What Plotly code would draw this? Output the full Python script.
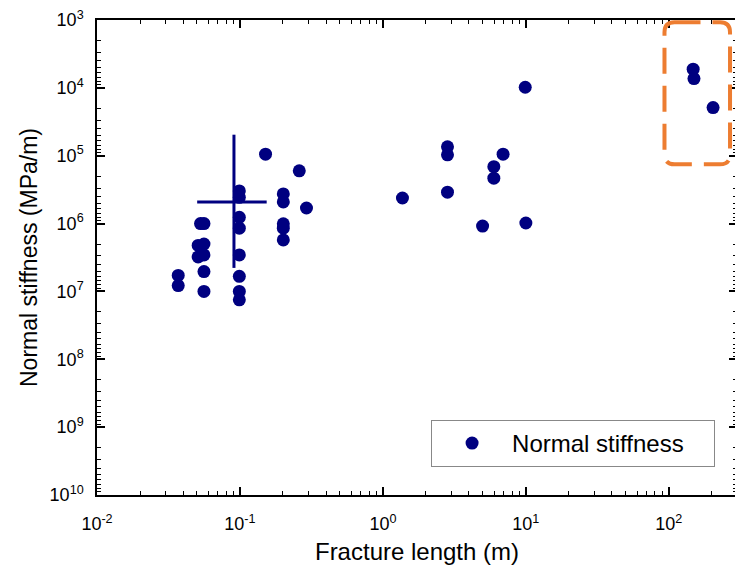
import plotly.graph_objects as go

# ---- data ----
length_m = [0.037, 0.037,
            0.053, 0.056, 0.056, 0.051, 0.056, 0.051, 0.056, 0.056,
            0.099, 0.099, 0.099, 0.099, 0.099, 0.099, 0.099, 0.099,
            0.151,
            0.201, 0.201, 0.201, 0.201, 0.201,
            0.26, 0.292,
            1.37, 2.83, 2.83, 2.83, 4.98, 5.97, 5.97, 6.93, 9.9, 10.0,
            148, 150, 204]
stiffness = [5.8e6, 8.2e6,
             1.0e6, 1.0e6, 2.0e6, 2.1e6, 2.9e6, 3.1e6, 5.1e6, 1.0e7,
             3.3e5, 4.1e5, 8.1e5, 1.17e6, 2.9e6, 6.0e6, 1.0e7, 1.33e7,
             9.5e4,
             3.66e5, 4.8e5, 1.01e6, 1.17e6, 1.74e6,
             1.67e5, 5.9e5,
             4.2e5, 7.4e4, 9.7e4, 3.45e5, 1.09e6, 1.45e5, 2.14e5, 9.5e4, 9.8e3, 9.8e5,
             5.3e3, 7.3e3, 1.95e4]

# mean value with error range (cross)
mean_length = [0.0908]
mean_stiffness = [4.8e5]
length_err_plus = [0.063]
length_err_minus = [0.0406]
stiff_err_plus = [4.02e6]
stiff_err_minus = [4.31e5]

x_tickvals = [0.01, 0.1, 1, 10, 100]
x_ticktext = ["10<sup>-2</sup>", "10<sup>-1</sup>", "10<sup>0</sup>", "10<sup>1</sup>", "10<sup>2</sup>"]
y_tickvals = [1e3, 1e4, 1e5, 1e6, 1e7, 1e8, 1e9, 1e10]
y_ticktext = ["10<sup>%d</sup>" % k for k in range(3, 11)]

x_minor = [m * 10.0 ** k for k in range(-2, 3) for m in range(2, 10)]
y_minor = [m * 10.0 ** k for k in range(3, 10) for m in range(2, 10)]

NAVY = "#000080"
ORANGE = "#ED7D31"
FONT = "Arial, 'Liberation Sans', sans-serif"

fig = go.Figure()

fig.add_trace(go.Scatter(
    x=mean_length, y=mean_stiffness, mode="markers",
    marker=dict(size=1, color=NAVY, opacity=0),
    error_x=dict(type="data", symmetric=False, array=length_err_plus,
                 arrayminus=length_err_minus, color=NAVY, thickness=3, width=0),
    error_y=dict(type="data", symmetric=False, array=stiff_err_plus,
                 arrayminus=stiff_err_minus, color=NAVY, thickness=3, width=0),
    showlegend=False, hoverinfo="skip"))

fig.add_trace(go.Scatter(
    x=length_m, y=stiffness, mode="markers",
    name="Normal stiffness",
    marker=dict(size=13, color=NAVY, line=dict(width=0))))

# rounded dashed highlight box (paper coordinates)
W, H = 640.0, 475.0
L, R, T, B = 0.8867, 0.9891, 0.9952, 0.6962
rx, ry = 10 / W, 10 / H
path = (f"M {L + rx} {T} L {R - rx} {T} Q {R} {T} {R} {T - ry} "
        f"L {R} {B + ry} Q {R} {B} {R - rx} {B} "
        f"L {L + rx} {B} Q {L} {B} {L} {B + ry} "
        f"L {L} {T - ry} Q {L} {T} {L + rx} {T} Z")
fig.add_shape(type="path", path=path, xref="paper", yref="paper",
              line=dict(color=ORANGE, width=4, dash="26px,12px"))

axis_common = dict(
    showgrid=False, zeroline=False, showline=True, linecolor="black", linewidth=1.5,
    ticks="inside", ticklen=8, tickwidth=1.5, tickcolor="black", mirror="allticks",
    tickfont=dict(family=FONT, size=18, color="black"),
    ticklabeloverflow="allow",
)

fig.update_xaxes(type="log", range=[-2, 2.477], tickmode="array",
                 tickvals=x_tickvals, ticktext=x_ticktext,
                 minor=dict(tickmode="array", tickvals=x_minor, ticks="inside",
                            ticklen=4, tickwidth=1.2, tickcolor="black", showgrid=False),
                 title=dict(text="Fracture length (m)", font=dict(family=FONT, size=24, color="black"),
                            standoff=10),
                 ticklabelstandoff=12,
                 **axis_common)
fig.update_yaxes(type="log", range=[10, 3], tickmode="array",
                 tickvals=y_tickvals, ticktext=y_ticktext,
                 minor=dict(tickmode="array", tickvals=y_minor, ticks="inside",
                            ticklen=4, tickwidth=1.2, tickcolor="black", showgrid=False),
                 title=dict(text="Normal stiffness (MPa/m)", font=dict(family=FONT, size=23, color="black"),
                            standoff=6),
                 ticklabelstandoff=8,
                 **axis_common)

fig.update_layout(
    width=735, height=561,
    margin=dict(l=89, r=6, t=12, b=74, autoexpand=False),
    plot_bgcolor="white", paper_bgcolor="white",
    font=dict(family=FONT, color="black"),
    legend=dict(x=0.522, y=0.158, xanchor="left", yanchor="top",
                orientation="h", entrywidth=197, itemwidth=70,
                bgcolor="white", bordercolor="#888888", borderwidth=1,
                font=dict(family=FONT, size=24, color="black"),
                itemsizing="trace"),
)

fig.write_html("out.html")
